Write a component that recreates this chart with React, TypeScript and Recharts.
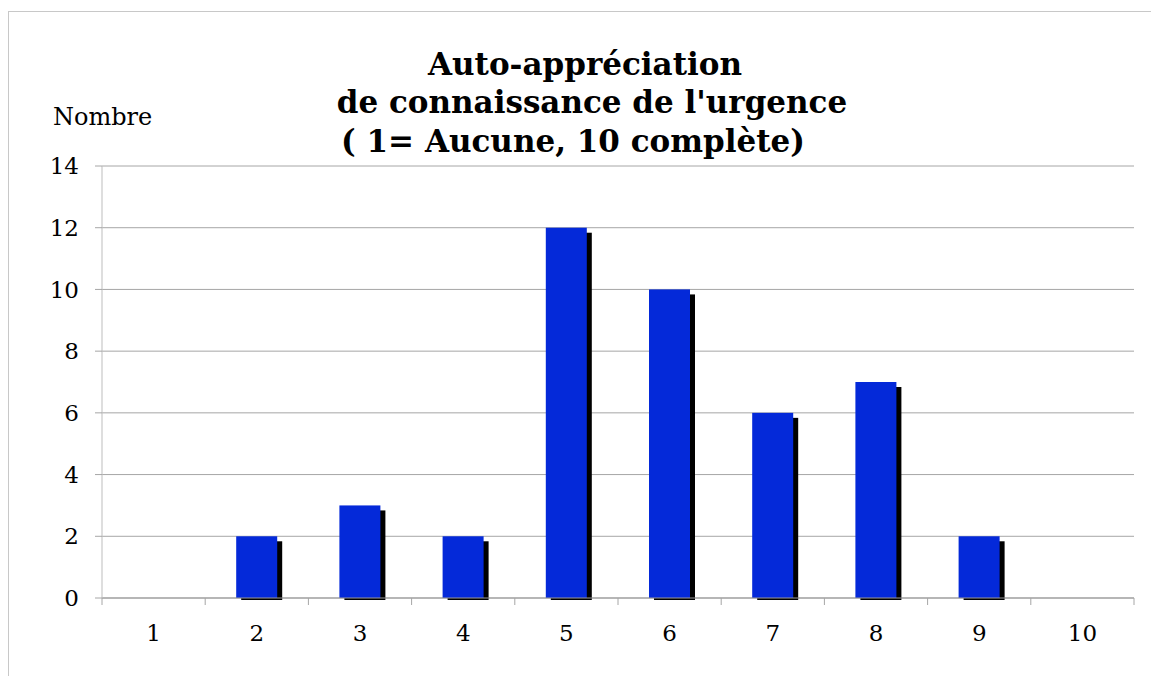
import React from "react";
import { BarChart, Bar, XAxis, YAxis, CartesianGrid } from "recharts";

const levels = ["1", "2", "3", "4", "5", "6", "7", "8", "9", "10"];
const counts = [0, 2, 3, 2, 12, 10, 6, 7, 2, 0];
const yTicks = [0, 2, 4, 6, 8, 10, 12, 14];

const titleLines = [
  "Auto-appréciation",
  "de connaissance de l'urgence",
  "( 1= Aucune, 10 complète)"
];

const FONT = "'DejaVu Serif', 'Liberation Serif', serif";
const BLUE = "#0429d9";
const GRID = "#a6a6a6";

const data = levels.map(function (level, i) {
  return { level: level, count: counts[i] };
});

function ShadowBar(props: any) {
  const { x, y, width, height } = props;
  if (!height || height <= 0) return null;
  return (
    <g>
      <rect x={x + 5} y={y + 5} width={width} height={height - 3} fill="#000" />
      <rect x={x} y={y} width={width} height={height} fill={BLUE} />
    </g>
  );
}

function LevelTick(props: any) {
  const { x, y, payload, width, visibleTicksCount, index } = props;
  const band = width / visibleTicksCount;
  const left = x - band / 2;
  const right = x + band / 2;
  return (
    <g>
      <line x1={left} x2={left} y1={y} y2={y + 7} stroke={GRID} />
      {index === visibleTicksCount - 1 && (
        <line x1={right} x2={right} y1={y} y2={y + 7} stroke={GRID} />
      )}
      <text
        x={x}
        y={y + 43}
        textAnchor="middle"
        fontFamily={FONT}
        fontSize={23}
        fill="#000"
      >
        {payload.value}
      </text>
    </g>
  );
}

export default function App() {
  return (
    <div style={{ paddingTop: 3 }}>
      <style>{"body{overflow:hidden}"}</style>
      <div
        style={{
          position: "relative",
          width: 1150,
          height: 664,
          borderTop: "1px solid #c8c8c8",
          borderLeft: "1px solid #c8c8c8"
        }}
      >
        <BarChart
          width={1150}
          height={664}
          data={data}
          margin={{ top: 154, right: 25, bottom: 48, left: 0 }}
        >
          <CartesianGrid vertical={false} stroke={GRID} />
          <XAxis
            dataKey="level"
            height={30}
            interval={0}
            tickSize={0}
            tickMargin={0}
            tickLine={false}
            axisLine={{ stroke: "#999999" }}
            tick={<LevelTick />}
          />
          <YAxis
            width={93}
            domain={[0, 14]}
            ticks={yTicks}
            interval={0}
            tickSize={7}
            tickMargin={16}
            axisLine={{ stroke: "#bdbdbd" }}
            tickLine={{ stroke: GRID }}
            tick={{ fontFamily: FONT, fontSize: 23, fill: "#000" }}
          />
          <Bar
            dataKey="count"
            barSize={41}
            shape={<ShadowBar />}
            isAnimationActive={false}
          />
        </BarChart>
        <svg
          width={1150}
          height={664}
          style={{ position: "absolute", left: 0, top: 0, pointerEvents: "none" }}
        >
          <text x={44} y={113} fontFamily={FONT} fontSize={24} fill="#000">
            Nombre
          </text>
          <text x={576} y={63} textAnchor="middle" fontFamily={FONT} fontSize={31} fontWeight="bold" fill="#000">
            {titleLines[0]}
          </text>
          <text x={583} y={101} textAnchor="middle" fontFamily={FONT} fontSize={31} fontWeight="bold" fill="#000">
            {titleLines[1]}
          </text>
          <text x={564} y={140} textAnchor="middle" fontFamily={FONT} fontSize={31} fontWeight="bold" fill="#000">
            {titleLines[2]}
          </text>
        </svg>
      </div>
    </div>
  );
}
